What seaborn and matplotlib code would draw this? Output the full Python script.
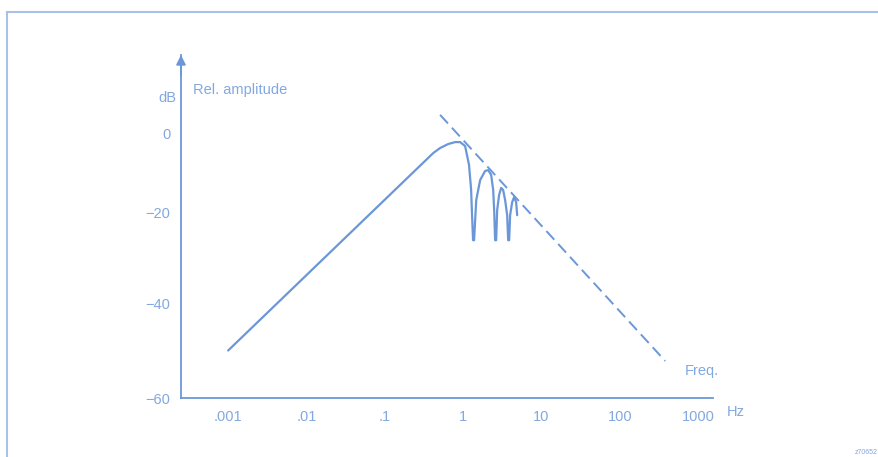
import numpy as np
import pandas as pd
import seaborn as sns
import matplotlib.pyplot as plt
from matplotlib.patches import Rectangle

# Response curve (Hz, dB)
freq = [0.001, 0.414, 0.508, 0.643, 0.79, 0.916, 1.06, 1.19, 1.265, 1.30, 1.34,
        1.38, 1.47, 1.65, 1.91, 2.09, 2.28, 2.42, 2.49, 2.56,
        2.64, 2.72, 2.88, 3.06, 3.24, 3.44, 3.65, 3.76,
        3.87, 3.98, 4.23, 4.48, 4.75, 4.90]
amp_db = [-50.0, -5.1, -3.8, -2.8, -2.3, -2.3, -3.3, -8.1, -14.4, -20.7, -26.2,
          -26.2, -17.0, -11.9, -9.6, -9.4, -10.6, -14.4, -19.5, -26.2,
          -26.2, -19.5, -15.7, -13.9, -14.4, -17.0, -20.7, -26.2,
          -26.2, -20.7, -17.5, -16.2, -17.5, -20.7]

# Dashed envelope
env_freq = [0.508, 380]
env_db = [4.6, -52.2]

x_ticks = [0.001, 0.01, 0.1, 1, 10, 100, 1000]
x_labels = ['.001', '.01', '.1', '1', '10', '100', '1000']
y_ticks = [0, -20, -40, -60]

# the printed dB axis is not evenly spaced, so map it piecewise
DB_KNOTS = [-200, -60, -40, -20, 0, 200]
PX_KNOTS = [-665, 0, 95, 186, 265, 1055]


def fwd(v):
    return np.interp(v, DB_KNOTS, PX_KNOTS)


def inv(p):
    return np.interp(p, PX_KNOTS, DB_KNOTS)


LINE = '#6b97d8'
TEXT = '#82a8e0'
FRAME = '#a9c0e8'

sns.set_theme(style='white')
plt.rcParams['font.family'] = ['Liberation Sans', 'DejaVu Sans']

W, H = 879, 457
fig = plt.figure(figsize=(W / 100, H / 100), dpi=100)
ax = fig.add_axes([181 / W, 59 / H, 532 / W, 343 / H])

df = pd.DataFrame({'freq': freq, 'dB': amp_db})
env = pd.DataFrame({'freq': env_freq, 'dB': env_db})

sns.lineplot(data=df, x='freq', y='dB', sort=False, estimator=None,
             color=LINE, lw=1.6, ax=ax)
sns.lineplot(data=env, x='freq', y='dB', sort=False, estimator=None,
             color=LINE, lw=1.4, ax=ax)
ax.lines[-1].set_dashes([6, 3])

ax.set_xscale('log')
ax.set_yscale('function', functions=(fwd, inv))
ax.set_xlim(2.5e-4, 1550)
ax.set_ylim(-60, 19.75)
ax.set_xticks(x_ticks)
ax.set_xticklabels(x_labels)
ax.set_yticks(y_ticks)
ax.minorticks_off()
ax.set_xlabel('')
ax.set_ylabel('')

for s in ['top', 'right']:
    ax.spines[s].set_visible(False)
for s in ['left', 'bottom']:
    ax.spines[s].set_color(LINE)
    ax.spines[s].set_linewidth(1.3)
ax.tick_params(direction='inout', length=5, width=1, color=LINE,
               labelcolor=TEXT, labelsize=10.5)
ax.tick_params(axis='x', pad=6)
ax.tick_params(axis='y', pad=5)

ax.annotate('', xy=(0, 1.0), xytext=(0, 0.94), xycoords='axes fraction',
            arrowprops=dict(arrowstyle='-|>', color=LINE, lw=1.3,
                            mutation_scale=14, shrinkA=0, shrinkB=0))

fig.text(167 / W, 1 - 98 / H, 'dB', color=TEXT, fontsize=10.5,
         ha='center', va='center')
fig.text(193 / W, 1 - 90 / H, 'Rel. amplitude', color=TEXT, fontsize=10.5,
         ha='left', va='center')
fig.text(685 / W, 1 - 371 / H, 'Freq.', color=TEXT, fontsize=10.5,
         ha='left', va='center')
fig.text(727 / W, 1 - 412 / H, 'Hz', color=TEXT, fontsize=10.5,
         ha='left', va='center')
fig.text(878 / W, 1 - 452 / H, 'z70652', color=TEXT, fontsize=5,
         ha='right', va='center')

fig.add_artist(Rectangle((7 / W, -0.05), 1.0, 1.05 - 12 / H,
                         transform=fig.transFigure, fill=False,
                         edgecolor=FRAME, lw=1.5, clip_on=False))

fig.savefig('out.png', dpi=100)
